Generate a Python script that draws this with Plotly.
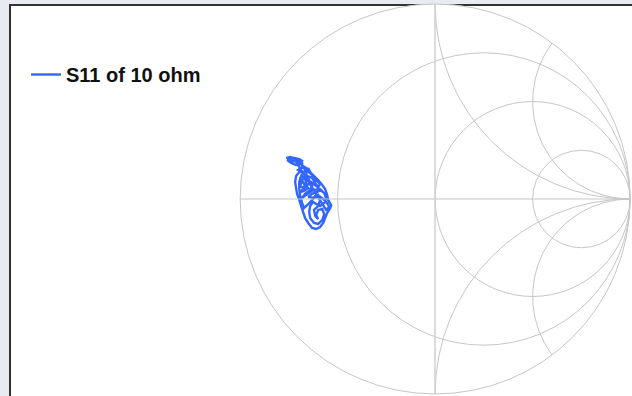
import numpy as np
import plotly.graph_objects as go

s11_re = [-0.764, -0.744, -0.723, -0.697, -0.682, -0.692, -0.713, -0.738, -0.759, -0.728,
          -0.697, -0.677, -0.662, -0.672, -0.697, -0.713, -0.718, -0.713, -0.708, -0.697,
          -0.687, -0.677, -0.667, -0.651, -0.631, -0.610, -0.590, -0.574, -0.564, -0.554,
          -0.538, -0.533, -0.549, -0.554, -0.564, -0.579, -0.600, -0.621, -0.641, -0.651,
          -0.662, -0.646, -0.631, -0.641, -0.667, -0.682, -0.662, -0.626, -0.595, -0.569,
          -0.559, -0.569, -0.590, -0.610, -0.626, -0.641, -0.646, -0.641, -0.621, -0.600,
          -0.579, -0.569, -0.579, -0.600, -0.610, -0.600, -0.615, -0.621, -0.600, -0.590,
          -0.600, -0.615, -0.631, -0.651, -0.672, -0.682, -0.692, -0.697, -0.697, -0.687,
          -0.667, -0.662, -0.677, -0.692, -0.682, -0.656, -0.631, -0.615, -0.600, -0.590,
          -0.610, -0.636, -0.662, -0.682,
          -0.703, -0.677, -0.692, -0.672, -0.651, -0.672, -0.692, -0.662, -0.636, -0.610,
          -0.585, -0.605, -0.631, -0.651, -0.621, -0.595, -0.574, -0.554, -0.544, -0.559,
          -0.713, -0.738, -0.754, -0.728, -0.703, -0.677]
s11_im = [0.210, 0.215, 0.210, 0.205, 0.195, 0.179, 0.174, 0.185, 0.200, 0.195,
          0.185, 0.169, 0.159, 0.138, 0.138, 0.118, 0.087, 0.056, 0.026, -0.005,
          -0.036, -0.067, -0.097, -0.123, -0.149, -0.154, -0.144, -0.123, -0.097, -0.072,
          -0.046, -0.031, -0.005, 0.021, 0.051, 0.072, 0.097, 0.118, 0.138, 0.159,
          0.128, 0.097, 0.067, 0.046, 0.026, 0.005, 0.021, 0.046, 0.051, 0.031,
          0.005, -0.021, -0.036, -0.026, -0.015, -0.036, -0.067, -0.097, -0.123, -0.128,
          -0.108, -0.077, -0.051, -0.056, -0.082, -0.103, -0.087, -0.056, -0.036, -0.005,
          0.021, 0.015, -0.005, -0.026, -0.046, -0.021, 0.015, 0.051, 0.087, 0.118,
          0.108, 0.082, 0.056, 0.067, 0.097, 0.118, 0.108, 0.082, 0.062, 0.077,
          0.097, 0.128, 0.149, 0.164,
          0.149, 0.133, 0.108, 0.077, 0.056, 0.041, 0.036, 0.067, 0.087, 0.067,
          0.046, 0.036, 0.026, 0.010, 0.005, 0.015, 0.000, -0.021, -0.041, -0.056,
          0.190, 0.200, 0.210, 0.210, 0.195, 0.179]

real_ticks = [0.333, 1, 3]
imag_ticks = [-2, -1, 1, 2]

gamma = np.array(s11_re) + 1j * np.array(s11_im)
z = (1 + gamma) / (1 - gamma)

W, H = 632, 396
grid = "#c6c6c6"

fig = go.Figure()
fig.add_trace(go.Scattersmith(real=z.real, imag=z.imag, mode="lines",
                              name="S11 of 10 ohm", showlegend=True,
                              line=dict(color="#3366ff", width=2.4)))
fig.update_layout(
    width=W, height=H, margin=dict(l=0, r=0, t=0, b=0),
    paper_bgcolor="#e8ecf0",
    smith=dict(domain=dict(x=[0.38, 0.997], y=[0.005, 0.99]), bgcolor="white",
               realaxis=dict(showticklabels=False, tickvals=real_ticks, gridcolor=grid,
                             linecolor=grid, ticks=""),
               imaginaryaxis=dict(showticklabels=False, tickvals=imag_ticks, gridcolor=grid,
                                  linecolor=grid, ticks="")),
    legend=dict(x=26 / W, y=1 - 55 / H, xanchor="left", yanchor="top",
                bgcolor="rgba(0,0,0,0)",
                font=dict(family="Liberation Sans", size=20, color="#111", weight="bold")),
    shapes=[
        dict(type="rect", xref="paper", yref="paper", x0=10 / W, x1=1.05, y0=-0.05, y1=1 - 5 / H,
             fillcolor="white", line=dict(color="#333", width=2), layer="below"),
        dict(type="line", xref="paper", yref="paper", x0=435 / W, x1=435 / W,
             y0=2 / H, y1=1 - 5 / H, line=dict(color="#d0d0d0", width=1.5), layer="above"),
    ],
)
fig.write_html("out.html")
